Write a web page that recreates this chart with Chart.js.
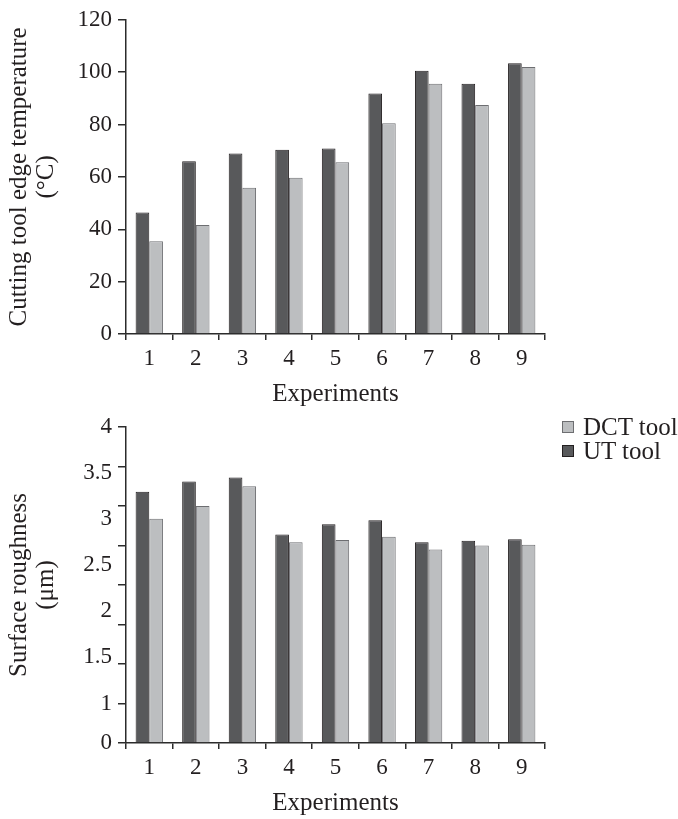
<!DOCTYPE html>
<html><head><meta charset="utf-8">
<script src="https://cdn.jsdelivr.net/npm/chart.js@4.4.1/dist/chart.umd.min.js"></script>
<style>
body{margin:0;background:#fff;width:678px;height:819px;position:relative;overflow:hidden;}
#c1{position:absolute;left:0;top:0;}
#c2{position:absolute;left:0;top:400px;}
#legend{position:absolute;left:562px;top:415px;font-family:'Liberation Serif',serif;font-size:25px;color:#231f20;}
.item{display:flex;align-items:center;height:24px;white-space:nowrap;}
.sw{width:10px;height:10px;border:1px solid #555;margin-right:9px;}
</style></head><body>
<canvas id="c1" width="678" height="410"></canvas>
<canvas id="c2" width="678" height="419"></canvas>
<div id="legend"></div>
<script>
// ---- data ----
const categories = ['1','2','3','4','5','6','7','8','9'];
const seriesNames = ['UT tool','DCT tool'];
const utTemp  = [46.4, 66.0, 68.9, 70.4, 70.8, 91.9, 100.5, 95.6, 103.4];
const dctTemp = [35.4, 41.6, 55.9, 59.7, 65.6, 80.5, 95.6, 87.5, 102.0];
const utRough  = [3.18, 3.31, 3.36, 2.64, 2.77, 2.82, 2.54, 2.56, 2.58];
const dctRough = [2.84, 3.00, 3.25, 2.54, 2.57, 2.61, 2.45, 2.50, 2.51];
const tempTitle = ['Cutting tool edge temperature','(°C)'];
const roughTitle = ['Surface roughness','(μm)'];
const xTitle = 'Experiments';
const roughTickLabels = ['4','3.5','3','2.5','2','1.5','1','0'];

// ---- styles ----
const FONT = "'Liberation Serif', 'Times New Roman', serif";
const TXT = '#231f20';
const AXIS = '#2b2b2b';
const utFill = '#58595b', utBorder = '#231f20';
const dctFill = '#bcbec0', dctBorder = '#6d6e71';
const TICKLEN = 8, TICKPAD = 6;

function datasets(ut, dct){
  return [
    {label: seriesNames[0], data: ut, backgroundColor: utFill, borderColor: utBorder, borderWidth: 1,
     barPercentage: 1, categoryPercentage: 0.587},
    {label: seriesNames[1], data: dct, backgroundColor: dctFill, borderColor: dctBorder, borderWidth: 1,
     barPercentage: 1, categoryPercentage: 0.587}
  ];
}

function makeOptions(yMin, yMax, step, yTitle, hideYLabels, padTop, xHeight){
  return {
    responsive: false, animation: false,
    layout: {padding: {top: padTop, right: 133, left: 0, bottom: 0}},
    plugins: {legend: {display: false}, tooltip: {enabled: false}},
    scales: {
      x: {
        grid: {display: true, offset: true, drawOnChartArea: false, drawTicks: true, tickLength: 6, color: AXIS, lineWidth: 1.5},
        border: {display: true, color: AXIS, width: 1.5},
        ticks: {font: {family: FONT, size: 23}, color: TXT, padding: 5, maxRotation: 0},
        title: {display: true, text: xTitle, font: {family: FONT, size: 25}, color: TXT, padding: {top: 0, bottom: 1}},
        afterFit(s){ s.height = xHeight; }
      },
      y: {
        min: yMin, max: yMax,
        grid: {display: true, drawOnChartArea: false, drawTicks: true, tickLength: TICKLEN, color: AXIS, lineWidth: 1.5},
        border: {display: true, color: AXIS, width: 1.5},
        ticks: {stepSize: step, font: {family: FONT, size: 23}, color: TXT, padding: TICKPAD,
                callback: hideYLabels ? () => '' : (v) => v},
        title: {display: true, text: yTitle, font: {family: FONT, size: 25, lineHeight: 1.08}, color: TXT, padding: {top: 6, bottom: 0}},
        afterFit(s){ s.width = 126; }
      }
    }
  };
}

const customYLabels = {
  id: 'customYLabels',
  afterDraw(chart){
    const s = chart.scales.y, ctx = chart.ctx;
    const ticks = s.ticks;
    const topPx = s.getPixelForValue(ticks[ticks.length-1].value);
    const lowPx = s.getPixelForValue(ticks[1].value);
    const n = roughTickLabels.length - 1;
    ctx.save();
    ctx.font = "23px " + FONT;
    ctx.fillStyle = TXT; ctx.textAlign = 'right'; ctx.textBaseline = 'middle';
    roughTickLabels.forEach((lbl, i) => {
      const y = (i === roughTickLabels.length-1) ? s.getPixelForValue(ticks[0].value)
               : topPx + (lowPx - topPx) * i / (n - 1);
      ctx.fillText(lbl, s.right - TICKLEN - TICKPAD, y);
    });
    ctx.restore();
  }
};

const chart1 = new Chart(document.getElementById('c1'), {
  type: 'bar',
  data: {labels: categories, datasets: datasets(utTemp, dctTemp)},
  options: makeOptions(0, 120, 20, tempTitle, false, 18, 76)
});
const chart2 = new Chart(document.getElementById('c2'), {
  type: 'bar',
  data: {labels: categories, datasets: datasets(utRough, dctRough)},
  options: makeOptions(0, 4, 0.5, roughTitle, true, 27, 76),
  plugins: [customYLabels]
});

// legend (reverse order as in reference)
const leg = document.getElementById('legend');
chart2.data.datasets.slice().reverse().forEach(ds => {
  const it = document.createElement('div'); it.className = 'item';
  const sw = document.createElement('span'); sw.className = 'sw';
  sw.style.background = ds.backgroundColor; sw.style.borderColor = ds.borderColor;
  const tx = document.createElement('span'); tx.textContent = ds.label;
  it.appendChild(sw); it.appendChild(tx); leg.appendChild(it);
});
</script>
</body></html>
